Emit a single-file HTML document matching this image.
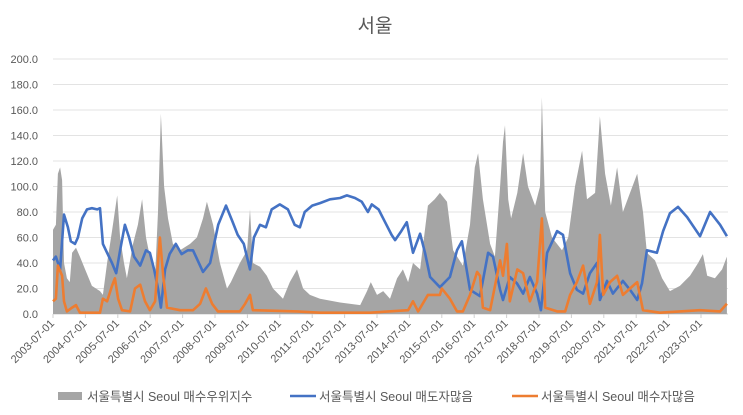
<!DOCTYPE html>
<html><head><meta charset="utf-8">
<style>
html,body{margin:0;padding:0;background:#fff;}
svg{display:block;font-family:"Liberation Sans","Noto Sans CJK KR",sans-serif;}
</style></head>
<body>
<svg id="chart" width="743" height="415" viewBox="0 0 743 415"></svg>
<script>
const yTicks = [0,20,40,60,80,100,120,140,160,180,200];
const xTickYears = [2003,2004,2005,2006,2007,2008,2009,2010,2011,2012,2013,2014,2015,2016,2017,2018,2019,2020,2021,2022,2023];
const grayDates = [2003.5,2003.59,2003.65,2003.72,2003.78,2003.84,2003.93,2004.02,2004.09,2004.21,2004.33,2004.49,2004.7,2004.95,2005.04,2005.17,2005.32,2005.48,2005.57,2005.69,2005.78,2005.97,2006.12,2006.25,2006.37,2006.49,2006.65,2006.74,2006.83,2006.93,2007.05,2007.2,2007.42,2007.73,2007.94,2008.13,2008.25,2008.44,2008.65,2008.87,2008.99,2009.27,2009.49,2009.58,2009.67,2009.89,2010.1,2010.29,2010.6,2010.81,2011.03,2011.22,2011.43,2011.74,2012.36,2012.98,2013.19,2013.31,2013.5,2013.69,2013.9,2014.12,2014.3,2014.46,2014.61,2014.83,2015.07,2015.28,2015.44,2015.66,2015.85,2016.15,2016.37,2016.52,2016.62,2016.77,2016.99,2017.14,2017.3,2017.39,2017.45,2017.55,2017.64,2017.83,2018.01,2018.16,2018.38,2018.53,2018.59,2018.69,2018.9,2019.21,2019.4,2019.61,2019.83,2019.98,2020.23,2020.38,2020.54,2020.72,2020.91,2021.09,2021.31,2021.53,2021.71,2021.83,2022.08,2022.3,2022.54,2022.85,2023.16,2023.41,2023.56,2023.69,2023.93,2024.15,2024.3];
const grayValues = [66,70,110,115,105,40,28,25,48,52,45,35,22,18,15,40,65,93,60,40,28,55,70,90,60,45,30,80,157,100,75,55,50,55,60,75,88,70,40,20,25,40,50,82,40,37,30,20,12,25,35,20,15,12,9,7,18,25,15,18,12,28,35,25,40,35,85,90,95,88,50,38,70,115,126,90,55,45,100,135,148,90,75,95,126,100,85,100,170,80,60,50,60,100,128,90,95,155,110,85,115,80,95,110,80,48,42,28,18,22,30,40,47,30,28,35,45];
const blueDates = [2003.5,2003.59,2003.72,2003.84,2003.96,2004.05,2004.18,2004.27,2004.4,2004.55,2004.7,2004.86,2004.95,2005.04,2005.17,2005.32,2005.45,2005.57,2005.72,2005.85,2006.0,2006.19,2006.37,2006.49,2006.62,2006.74,2006.83,2006.96,2007.1,2007.29,2007.47,2007.66,2007.82,2007.91,2008.13,2008.35,2008.6,2008.84,2009.03,2009.2,2009.39,2009.58,2009.7,2009.89,2010.07,2010.25,2010.5,2010.75,2010.96,2011.12,2011.27,2011.5,2011.74,2012.05,2012.36,2012.57,2012.82,2013.03,2013.22,2013.34,2013.55,2013.75,2013.95,2014.06,2014.25,2014.42,2014.61,2014.83,2014.98,2015.14,2015.44,2015.75,2015.97,2016.12,2016.37,2016.68,2016.93,2017.08,2017.3,2017.39,2017.6,2017.82,2018.01,2018.22,2018.44,2018.56,2018.75,2019.06,2019.24,2019.46,2019.67,2019.86,2020.07,2020.29,2020.38,2020.6,2020.78,2021.09,2021.31,2021.53,2021.68,2021.83,2022.14,2022.33,2022.54,2022.79,2023.07,2023.47,2023.78,2024.09,2024.3];
const blueValues = [42,45,35,78,68,57,55,60,75,82,83,82,83,55,48,40,32,50,70,60,45,38,50,48,35,20,5,35,47,55,47,50,50,45,33,40,70,85,73,62,55,35,60,70,68,82,86,82,70,68,80,85,87,90,91,93,91,88,80,86,82,72,62,58,65,72,48,63,48,29,21,29,50,57,19,14,48,45,19,11,29,24,16,29,16,3,48,65,62,32,19,16,32,40,11,26,16,26,19,11,24,50,48,65,79,84,76,61,80,70,61];
const orangeDates = [2003.5,2003.59,2003.65,2003.78,2003.84,2003.93,2004.09,2004.21,2004.33,2004.95,2005.04,2005.17,2005.32,2005.41,2005.51,2005.63,2005.88,2006.03,2006.19,2006.34,2006.49,2006.65,2006.8,2006.9,2007.02,2007.42,2007.82,2008.04,2008.22,2008.41,2008.59,2009.27,2009.43,2009.58,2009.67,2011.03,2011.74,2013.28,2014.46,2014.61,2014.77,2015.07,2015.44,2015.5,2015.75,2015.97,2016.15,2016.37,2016.59,2016.68,2016.77,2016.99,2017.3,2017.39,2017.51,2017.6,2017.83,2018.01,2018.22,2018.44,2018.59,2018.69,2019.06,2019.31,2019.46,2019.67,2019.86,2020.07,2020.29,2020.38,2020.48,2020.69,2020.91,2021.09,2021.31,2021.53,2021.71,2022.23,2023.47,2024.09,2024.3];
const orangeValues = [10,12,38,30,10,2,5,7,1,1,12,10,22,28,12,3,2,20,23,10,3,10,60,30,5,3,3,8,20,8,2,2,8,15,3,2,1,1,3,10,2,15,15,20,12,2,2,15,33,30,5,3,42,30,55,10,35,32,10,25,75,5,2,2,15,25,38,8,25,62,15,25,30,15,20,25,3,1,3,2,8];

const NS = "http://www.w3.org/2000/svg";
const svg = document.getElementById('chart');
const L = 53, R = 728, T = 59, B = 314;
const x0Year = 2003.5, pxPerYear = 32.4;
function xScale(yr){ return L + (yr - x0Year) * pxPerYear; }
function yScale(v){ return B - (v / 200) * (B - T); }
function mk(tag, attrs, parent){ const e = document.createElementNS(NS, tag); for (const k in attrs) e.setAttribute(k, attrs[k]); (parent||svg).appendChild(e); return e; }

const title = mk('text', {x:375, y:32, 'text-anchor':'middle', 'font-size':'19', fill:'#595959'});


title.textContent = '서울';

const grid = mk('g', {});


yTicks.forEach(v => {
  const y = yScale(v);
  const ln = mk('line', {x1:L, x2:R, y1:y, y2:y, stroke: v===0 ? '#d0d0d0' : '#e3e3e3', 'stroke-width':1}, grid);
  
  
  const t = mk('text', {x:38, y:y+4, 'text-anchor':'end', 'font-size':'11', fill:'#595959'}, grid);
  
  
  t.textContent = v.toFixed(1);
});

function pts(dates, vals){ return dates.map((d,i)=> xScale(d).toFixed(1)+','+yScale(vals[i]).toFixed(1)).join(' '); }

const area = mk('polygon', {points: xScale(grayDates[0]).toFixed(1)+','+B+' '+pts(grayDates, grayValues)+' '+xScale(grayDates[grayDates.length-1]).toFixed(1)+','+B, fill:'#a5a5a5'});



const blue = mk('polyline', {points: pts(blueDates, blueValues), fill:'none', stroke:'#4472c4', 'stroke-width':2.6, 'stroke-linejoin':'round'});



const orange = mk('polyline', {points: pts(orangeDates, orangeValues), fill:'none', stroke:'#ed7d31', 'stroke-width':2.6, 'stroke-linejoin':'round'});



const xg = mk('g', {});


xTickYears.forEach(yr => {
  const x = xScale(yr + 0.5);
  const tk = mk('line', {x1:x, x2:x, y1:B, y2:B+4, stroke:'#d0d0d0'}, xg);
  
  
  const t = mk('text', {x:x+2, y:B+10, 'text-anchor':'end', 'font-size':'11', fill:'#595959', transform:'rotate(-45 '+(x+2)+' '+(B+10)+')'}, xg);
  
  
  t.textContent = yr + '-07-01';
});

const lg = mk('g', {});


const legendItems = [
  {x:58, kind:'box', color:'#a5a5a5', label:'서울특별시 Seoul 매수우위지수'},
  {x:290, kind:'line', color:'#4472c4', label:'서울특별시 Seoul 매도자많음'},
  {x:512, kind:'line', color:'#ed7d31', label:'서울특별시 Seoul 매수자많음'}
];
legendItems.forEach(it => {
  const g = mk('g', {}, lg);
  
  
  if (it.kind === 'box') mk('rect', {x:it.x, y:392, width:24, height:8, fill:it.color}, g);
  else mk('line', {x1:it.x, x2:it.x+26, y1:396, y2:396, stroke:it.color, 'stroke-width':2.6}, g);
  const t = mk('text', {x:it.x+29, y:401, 'font-size':'12.5', fill:'#595959'}, g);
  t.textContent = it.label;
});
</script>
</body></html>
